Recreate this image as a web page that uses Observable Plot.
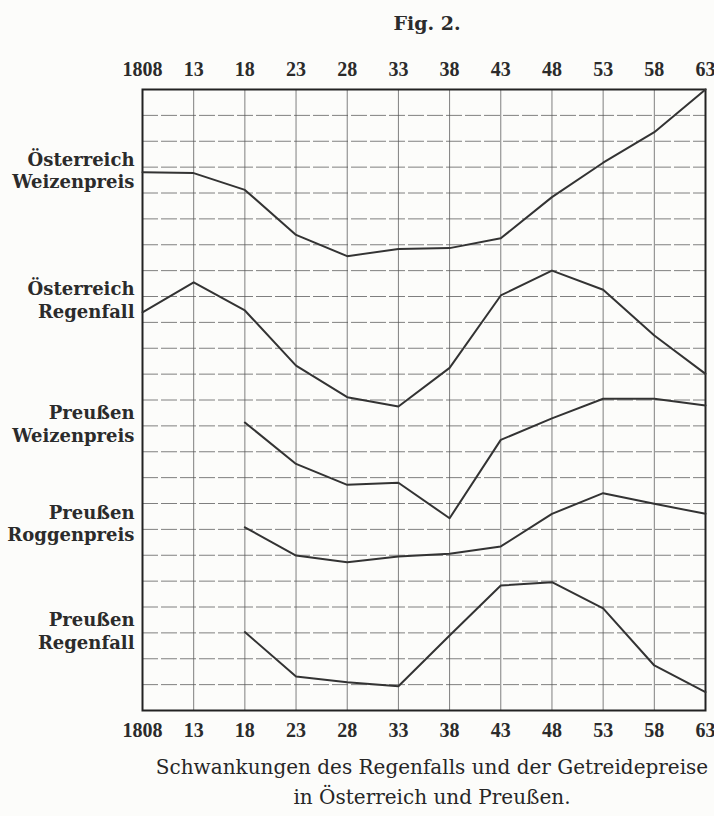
<!DOCTYPE html>
<html><head><meta charset="utf-8">
<script src="https://cdn.jsdelivr.net/npm/d3@7"></script>
<script src="https://cdn.jsdelivr.net/npm/@observablehq/plot@0.6"></script>
<style>
body{margin:0;background:#fcfcfa;font-family:"DejaVu Serif",serif;color:#2b2b2b;}
#wrap{width:714px;}
#title{height:40px;line-height:46px;text-align:center;padding-left:140px;font-weight:bold;font-size:19px;box-sizing:border-box;}
#caption{padding-left:150px;text-align:center;font-size:20px;line-height:30px;box-sizing:border-box;white-space:nowrap;color:#262626;}
</style></head><body>
<div id="wrap">
<div id="title">Fig. 2.</div>
<div id="chart"></div>
<div id="caption">Schwankungen des Regenfalls und der Getreidepreise<br>in Österreich und Preußen.</div>
</div>
<script>
const years = [1808,1813,1818,1823,1828,1833,1838,1843,1848,1853,1858,1863];
const tickLabels = ["1808","13","18","23","28","33","38","43","48","53","58","63"];
const gridRows = [0,1,2,3,4,5,6,7,8,9,10,11,12,13,14,15,16,17,18,19,20,21,22,23,24];

const seriesNames = ["Österreich Weizenpreis","Österreich Regenfall","Preußen Weizenpreis","Preußen Roggenpreis","Preußen Regenfall"];
const labelText = ["Österreich\nWeizenpreis","Österreich\nRegenfall","Preußen\nWeizenpreis","Preußen\nRoggenpreis","Preußen\nRegenfall"];
const labelY = [20.9, 15.9, 11.1, 7.25, 3.1];

const oeWeizen  = [20.80,20.77,20.12,18.38,17.56,17.84,17.87,18.25,19.84,21.17,22.35,24.00];
const oeRegen   = [15.39,16.55,15.46,13.33,12.11,11.75,13.24,16.04,17.00,16.26,14.49,13.01];
const prWeizen  = [null,null,11.13,9.53,8.72,8.80,7.43,10.46,11.29,12.05,12.05,11.79];
const prRoggen  = [null,null,7.08,5.99,5.73,5.95,6.06,6.34,7.60,8.40,7.99,7.60];
const prRegen   = [null,null,3.03,1.31,1.09,0.94,2.90,4.83,4.96,3.95,1.74,0.71];

const allSeries = [oeWeizen, oeRegen, prWeizen, prRoggen, prRegen];
const rows = [];
allSeries.forEach((vals, s) => vals.forEach((v, i) => {
  if (v !== null) rows.push({series: seriesNames[s], year: years[i], value: v});
}));
const labels = labelText.map((t, i) => ({text: t, y: labelY[i]}));
const fmt = d => tickLabels[years.indexOf(d)];
const tickFont = "Liberation Serif, serif";

const chart = Plot.plot({
  width: 714,
  height: 712,
  marginLeft: 142,
  marginRight: 9,
  marginTop: 49,
  marginBottom: 42,
  style: {background: "transparent", fontFamily: "DejaVu Serif, serif", color: "#2b2b2b"},
  x: {domain: [1808, 1863], label: null},
  y: {domain: [0, 24], axis: null},
  marks: [
    Plot.ruleY(gridRows, {stroke: "#555", strokeOpacity: 0.75, strokeWidth: 1, strokeDasharray: "16,3"}),
    Plot.ruleX(years, {stroke: "#555", strokeOpacity: 0.75, strokeWidth: 1}),
    Plot.frame({stroke: "#222", strokeWidth: 2}),
    Plot.line(rows, {x: "year", y: "value", z: "series", stroke: "#333", strokeWidth: 2}),
    Plot.text(labels, {y: "y", text: "text", frameAnchor: "left", textAnchor: "end", dx: -8, lineHeight: 1.25, fontSize: 18, fontWeight: "bold", fill: "#2b2b2b"}),
    Plot.axisX(years, {anchor: "top", label: null, tickSize: 0, tickPadding: 14, tickFormat: fmt, fontSize: 20, fontWeight: "bold", fontFamily: tickFont, fill: "#2b2b2b"}),
    Plot.axisX(years, {anchor: "bottom", label: null, tickSize: 0, tickPadding: 12, tickFormat: fmt, fontSize: 20, fontWeight: "bold", fontFamily: tickFont, fill: "#2b2b2b"})
  ]
});
document.getElementById("chart").appendChild(chart);
</script>
</body></html>
